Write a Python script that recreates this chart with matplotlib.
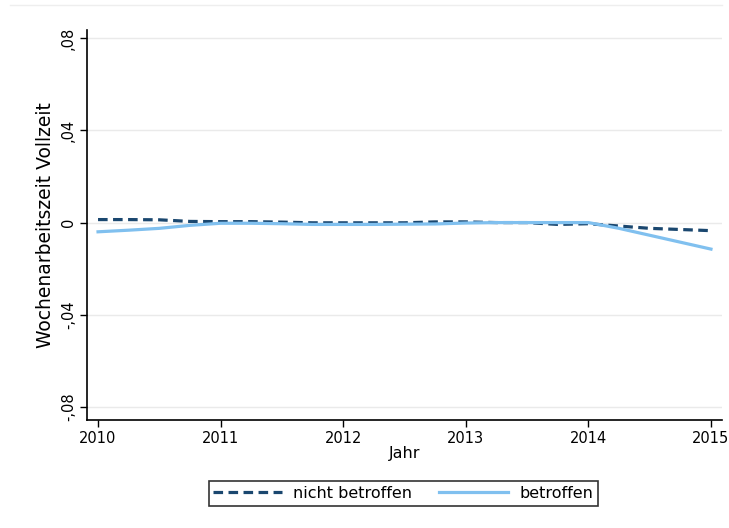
import matplotlib.pyplot as plt
import numpy as np

plt.rcParams['font.family'] = ['DejaVu Sans']

# quarterly points, 2010 to 2015
jahr = np.array([2010.0, 2010.25, 2010.5, 2010.75, 2011.0, 2011.25, 2011.5, 2011.75,
                 2012.0, 2012.25, 2012.5, 2012.75, 2013.0, 2013.25, 2013.5, 2013.75,
                 2014.0, 2014.25, 2014.5, 2014.75, 2015.0])
nicht_betroffen = [0.0013, 0.0013, 0.0012, 0.0005, 0.0004, 0.0004, 0.0002, -0.0001,
                   -0.0001, -0.0001, -0.0001, 0.0003, 0.0003, 0.0, 0.0, -0.0008,
                   -0.0005, -0.0015, -0.0025, -0.003, -0.0035]
betroffen = [-0.004, -0.0033, -0.0025, -0.0012, -0.0003, -0.0003, -0.0005, -0.0008,
             -0.0008, -0.0008, -0.0007, -0.0006, -0.0002, 0.0, 0.0, 0.0,
             0.0, -0.0025, -0.0055, -0.0085, -0.0115]

xticks = [2010, 2011, 2012, 2013, 2014, 2015]
yticks = [-0.08, -0.04, 0, 0.04, 0.08]
ytick_labels = ['-,08', '-,04', '0', ',04', ',08']

fig = plt.figure(figsize=(7.29, 5.28), dpi=100)
ax = fig.add_axes([87 / 729, 1 - 420 / 528, 635 / 729, 390 / 528])

ax.plot(jahr, nicht_betroffen, color='#1a476f', linestyle=(0, (3, 1.7)), linewidth=2.3,
        label='nicht betroffen')
ax.plot(jahr, betroffen, color='#80c0ef', linewidth=2.3, label='betroffen')

ax.set_xlim(2009.91, 2015.09)
ax.set_ylim(-0.0856, 0.0835)
ax.set_xticks(xticks)
ax.set_xticklabels([str(t) for t in xticks], fontsize=10.5)
ax.set_yticks(yticks)
ax.set_yticklabels(ytick_labels, fontsize=10.5, rotation=90, va='center')
ax.grid(axis='y', color='#eaeaea', linewidth=1)
ax.set_axisbelow(True)
ax.tick_params(direction='out', length=5, width=1, color='black', pad=3)

for side in ['top', 'right']:
    ax.spines[side].set_visible(False)
for side in ['left', 'bottom']:
    ax.spines[side].set_linewidth(1.2)

ax.set_xlabel('Jahr', fontsize=11.5, labelpad=0)
ax.set_ylabel('Wochenarbeitszeit Vollzeit', fontsize=13.5, labelpad=4)

leg = ax.legend(loc='center', bbox_to_anchor=(0.498, -0.188), ncol=2, fontsize=11.5,
                frameon=True, fancybox=False, edgecolor='black', handlelength=4.3,
                columnspacing=1.7, borderpad=0.3, handletextpad=0.7, borderaxespad=0)
leg.get_frame().set_linewidth(1.2)

# faint line along the top of the graph region
fig.add_artist(plt.Line2D([10 / 729, 722 / 729], [1 - 5 / 528, 1 - 5 / 528],
                          color='#eeeeee', linewidth=1))

fig.savefig('out.png', dpi=100)
